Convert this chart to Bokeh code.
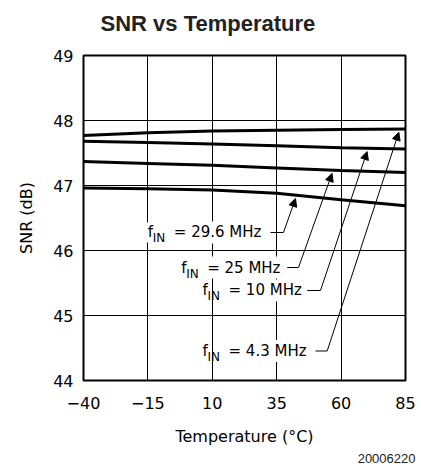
from bokeh.plotting import figure
from bokeh.models import Label, Arrow, NormalHead, FixedTicker, Range1d, Title
from bokeh.embed import file_html
from bokeh.resources import INLINE
import numpy as np

# ---- data ----
temperature = [-40, -15, 10, 35, 60, 85]
snr_4_3 = [47.77, 47.81, 47.84, 47.85, 47.86, 47.87]
snr_10 = [47.68, 47.66, 47.64, 47.61, 47.58, 47.56]
snr_25 = [47.37, 47.34, 47.31, 47.27, 47.23, 47.20]
snr_29_6 = [46.96, 46.95, 46.93, 46.88, 46.78, 46.69]

x_ticks = [-40, -15, 10, 35, 60, 85]
x_tick_labels = ["\u221240", "\u221215", "10", "35", "60", "85"]
y_ticks = [44, 45, 46, 47, 48, 49]
y_tick_labels = ["44", "45", "46", "47", "48", "49"]

series_labels = ["= 4.3 MHz", "= 10 MHz", "= 25 MHz", "= 29.6 MHz"]
series_values = [snr_4_3, snr_10, snr_25, snr_29_6]

# annotation layout: text start x, text y, leader start x, leader bend x, arrow tip temperature
label_text_x = [16.29, 16.29, 8.02, -4.95]
label_text_y = [44.454, 45.385, 45.738, 46.277]
leader_x0 = [50.06, 46.84, 39.08, 32.59]
leader_x1 = [54.6, 52.0, 43.46, 37.64]
tip_temp = [82.4, 70.1, 56.5, 42.3]

FONT = "DejaVu Sans"

p = figure(width=421, height=470, output_backend="svg", toolbar_location=None, title=None,
           x_range=Range1d(-40, 85), y_range=Range1d(44, 49),
           min_border_left=83, min_border_right=16, min_border_top=55, min_border_bottom=90)

p.background_fill_color = "white"
p.border_fill_color = "white"
p.outline_line_color = "black"
p.outline_line_width = 2

for ax in (p.xaxis[0], p.yaxis[0]):
    ax.axis_line_color = None
    ax.major_tick_line_color = None
    ax.minor_tick_line_color = None
    ax.major_tick_out = 0
    ax.major_tick_in = 0
    ax.major_label_text_font = FONT
    ax.major_label_text_font_size = "16px"
    ax.major_label_text_color = "black"
    ax.axis_label_text_font = FONT
    ax.axis_label_text_font_size = "16px"
    ax.axis_label_text_font_style = "normal"
    ax.axis_label_text_color = "black"

p.xaxis.ticker = FixedTicker(ticks=x_ticks)
p.xaxis.major_label_overrides = dict(zip(x_ticks, x_tick_labels))
p.yaxis.ticker = FixedTicker(ticks=y_ticks)
p.yaxis.major_label_overrides = dict(zip(y_ticks, y_tick_labels))
p.xaxis.major_label_standoff = 16
p.yaxis.major_label_standoff = 10
p.xaxis.axis_label = "Temperature (\u00b0C)"
p.yaxis.axis_label = "SNR (dB)"
p.xaxis.axis_label_standoff = 15
p.yaxis.axis_label_standoff = 14

p.xgrid.ticker = FixedTicker(ticks=x_ticks)
p.ygrid.ticker = FixedTicker(ticks=y_ticks)
for g in (p.xgrid[0], p.ygrid[0]):
    g.grid_line_color = "black"
    g.grid_line_width = 1
    g.grid_line_alpha = 1.0

# title (spacer nearest the frame, then the title itself)
p.add_layout(Title(text=" ", text_font_size="8px", standoff=2), "above")
p.add_layout(Title(text="SNR vs Temperature", text_font="Liberation Sans", text_font_size="22px",
                   text_font_style="bold", text_color="#222222", align="left", offset=17,
                   standoff=14), "above")

# figure number caption under the axis title
p.add_layout(Title(text="20006220", text_font="Liberation Sans", text_font_size="13px",
                   text_font_style="normal", text_color="#222222", align="right", offset=-10,
                   standoff=6), "below")

# labels (with white background knocking out the grid)
for txt, tx, ty in zip(series_labels, label_text_x, label_text_y):
    p.add_layout(Label(x=tx, y=ty, x_offset=-2, text=txt, text_font=FONT, text_font_size="15px",
                       text_baseline="middle", text_align="left", text_color="black",
                       background_fill_color="white", padding=2))
    p.add_layout(Label(x=tx, y=ty, x_offset=-27, text="f", text_font=FONT, text_font_size="15px",
                       text_baseline="middle", text_align="left", text_color="black",
                       background_fill_color="white", padding=1))
    p.add_layout(Label(x=tx, y=ty, x_offset=-21, y_offset=-6, text="IN", text_font=FONT,
                       text_font_size="12px", text_baseline="middle", text_align="left",
                       text_color="black"))

# white halos of the leader lines (knock out the grid only)
for vals, ty, x1, tt in zip(series_values, label_text_y, leader_x1, tip_temp):
    tip_y = float(np.interp(tt, temperature, vals)) - 0.05
    p.line([x1, tt], [ty, tip_y], line_color="white", line_width=5, level="underlay")

# curves
for vals in series_values:
    p.line(temperature, vals, line_color="black", line_width=3)

# leaders with arrows
for vals, ty, x0, x1, tt in zip(series_values, label_text_y, leader_x0, leader_x1, tip_temp):
    tip_y = float(np.interp(tt, temperature, vals)) - 0.05
    p.line([x0, x1], [ty, ty], line_color="black", line_width=1)
    p.add_layout(Arrow(x_start=x1, y_start=ty, x_end=tt, y_end=tip_y, line_width=1,
                       line_color="black",
                       end=NormalHead(size=8, fill_color="black", line_color="black")))

open("out.html", "w").write(file_html(p, INLINE))
